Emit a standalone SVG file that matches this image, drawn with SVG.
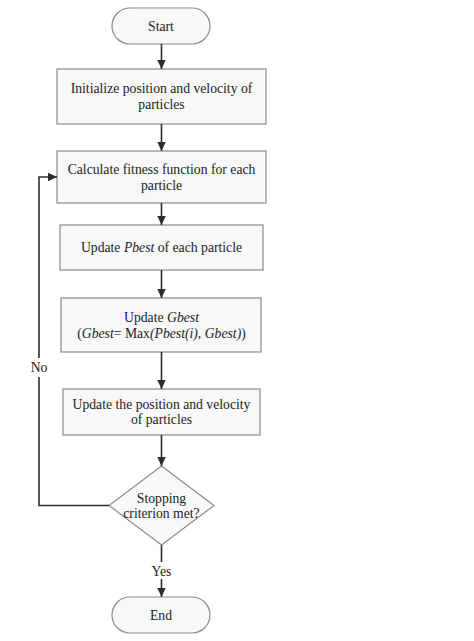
<svg xmlns="http://www.w3.org/2000/svg" width="474" height="641" viewBox="0 0 474 641">
<defs>
<marker id="ah" markerWidth="10" markerHeight="10" refX="9" refY="5" orient="auto" markerUnits="userSpaceOnUse">
<path d="M0,0.8 L9,5 L0,9.2 Z" fill="#2b2b2b"/>
</marker>
<style>
.box{fill:#f8f8f8;stroke:#8c8c8c;stroke-width:1.2}
.t{font-family:"Liberation Serif","Times New Roman",serif;font-size:13.7px;fill:#222;text-anchor:middle}
.c{fill:none;stroke:#2b2b2b;stroke-width:1.6}
</style>
</defs>
<rect width="474" height="641" fill="#ffffff"/>
<g id="start">
<rect class="box" x="112" y="8" width="98" height="36" rx="18" ry="18"/>
<text class="t" x="161" y="31">Start</text>
</g>
<g id="init">
<rect class="box" x="57" y="69" width="209" height="55"/>
<text class="t" x="161.5" y="93">Initialize position and velocity of</text>
<text class="t" x="161.5" y="109">particles</text>
</g>
<g id="calc">
<rect class="box" x="57" y="151" width="209" height="52"/>
<text class="t" x="161.5" y="173.5">Calculate fitness function for each</text>
<text class="t" x="161.5" y="189.5">particle</text>
</g>
<g id="pbest">
<rect class="box" x="60" y="225" width="203" height="45"/>
<text class="t" x="161.5" y="251.5">Update <tspan font-style="italic">Pbest</tspan> of each particle</text>
</g>
<g id="gbest">
<rect class="box" x="61" y="298" width="200" height="54"/>
<text class="t" x="161.5" y="321.5">Update <tspan font-style="italic">Gbest</tspan></text>
<text class="t" x="161.5" y="337.5">(<tspan font-style="italic">Gbest</tspan>= Max<tspan font-style="italic">(Pbest(i), Gbest)</tspan>)</text>
</g>
<g id="update">
<rect class="box" x="63" y="389" width="197" height="46"/>
<text class="t" x="161.5" y="408.5">Update the position and velocity</text>
<text class="t" x="161.5" y="424">of particles</text>
</g>
<g id="decision">
<polygon class="box" points="161.5,466 214,505.5 161.5,545 109,505.5"/>
<text class="t" x="161.5" y="502.5">Stopping</text>
<text class="t" x="161.5" y="518">criterion met?</text>
</g>
<g id="end">
<rect class="box" x="112" y="597" width="98" height="36" rx="18" ry="18"/>
<text class="t" x="161" y="620">End</text>
</g>
<g id="connectors">
<line class="c" x1="161.5" y1="44" x2="161.5" y2="69" marker-end="url(#ah)"/>
<line class="c" x1="161.5" y1="124" x2="161.5" y2="151" marker-end="url(#ah)"/>
<line class="c" x1="161.5" y1="203" x2="161.5" y2="225" marker-end="url(#ah)"/>
<line class="c" x1="161.5" y1="270" x2="161.5" y2="298" marker-end="url(#ah)"/>
<line class="c" x1="161.5" y1="352" x2="161.5" y2="389" marker-end="url(#ah)"/>
<line class="c" x1="161.5" y1="435" x2="161.5" y2="466" marker-end="url(#ah)"/>
<line class="c" x1="161.5" y1="545" x2="161.5" y2="562"/>
<line class="c" x1="161.5" y1="579" x2="161.5" y2="597" marker-end="url(#ah)"/>
<polyline class="c" points="109,505.5 39,505.5 39,377"/>
<polyline class="c" points="39,358 39,177 57,177" marker-end="url(#ah)"/>
<text class="t" x="39" y="372">No</text>
<text class="t" x="161.5" y="575.5">Yes</text>
</g>
</svg>
